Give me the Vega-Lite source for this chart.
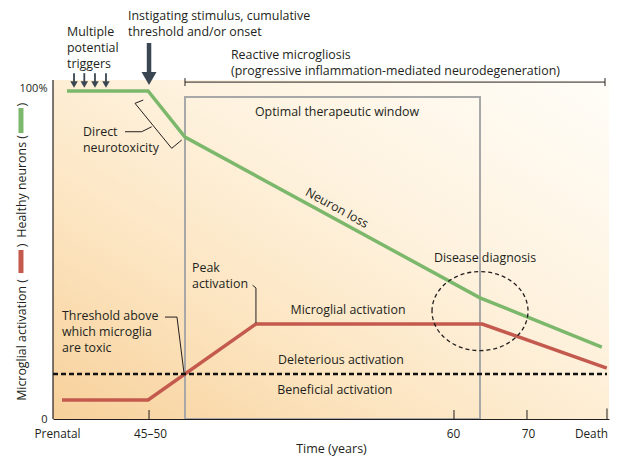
{
  "$schema": "https://vega.github.io/schema/vega-lite/v6.json",
  "width": 556,
  "height": 419,
  "autosize": {"type": "none"},
  "padding": {"left": 53, "top": 0, "right": 16, "bottom": 44},
  "background": "white",
  "config": {"view": {"stroke": null}, "font": "Open Sans"},
  "datasets": {
    "bg": [{"x": 0, "x2": 100, "y": 0, "y2": 102.4}],
    "win": [{"x": 23.74, "x2": 76.8, "y": 0, "y2": 97.3}],
    "curves": [
      {"s": "neurons", "o": 1, "x": 2.52, "y": 99.1},
      {"s": "neurons", "o": 2, "x": 17.1, "y": 99.1},
      {"s": "neurons", "o": 3, "x": 23.74, "y": 85.2},
      {"s": "neurons", "o": 4, "x": 76.8, "y": 36.6},
      {"s": "neurons", "o": 5, "x": 98.7, "y": 21.75},
      {"s": "microglia", "o": 1, "x": 1.62, "y": 5.74},
      {"s": "microglia", "o": 2, "x": 17.1, "y": 5.74},
      {"s": "microglia", "o": 3, "x": 36.5, "y": 28.7},
      {"s": "microglia", "o": 4, "x": 77.2, "y": 28.7},
      {"s": "microglia", "o": 5, "x": 99.6, "y": 15.4}
    ],
    "dash": [{"x": 0, "x2": 99.64, "y": 13.6}],
    "reactive": [{"x": 23.74, "x2": 99.28, "y": 101.8}],
    "reactiveEnds": [{"x": 23.74, "y": 100.6, "y2": 103.0}, {"x": 99.28, "y": 100.6, "y2": 103.0}],
    "leaders": [
      {"g": "bracket", "o": 1, "x": 16.24, "y": 96.37},
      {"g": "bracket", "o": 2, "x": 14.75, "y": 95.38},
      {"g": "bracket", "o": 3, "x": 21.35, "y": 81.78},
      {"g": "bracket", "o": 4, "x": 23.15, "y": 84.29},
      {"g": "connector", "o": 1, "x": 12.95, "y": 86.8},
      {"g": "connector", "o": 2, "x": 15.95, "y": 86.8},
      {"g": "connector", "o": 3, "x": 17.75, "y": 88.3},
      {"g": "threshold", "o": 1, "x": 20.14, "y": 30.8},
      {"g": "threshold", "o": 2, "x": 22.3, "y": 30.8},
      {"g": "threshold", "o": 3, "x": 23.56, "y": 13.9},
      {"g": "peak", "o": 1, "x": 35.9, "y": 40.4},
      {"g": "peak", "o": 2, "x": 36.5, "y": 39.6},
      {"g": "peak", "o": 3, "x": 36.5, "y": 29.0}
    ],
    "xticks": [
      {"x": 17.27, "y": 0, "y2": 2.72},
      {"x": 72.12, "y": 0, "y2": 2.72},
      {"x": 85.25, "y": 0, "y2": 2.72},
      {"x": 99.64, "y": 0, "y2": 3.2}
    ],
    "yaxis": [{"x": 0, "y": 0, "y2": 102.4}],
    "bigShaft": [{"x": 17.27, "y": 102.9, "y2": 113.6}],
    "bigHead": [{"x": 17.27, "y": 102.87}],
    "smallShaft": [
      {"x": 3.78, "y": 101.3, "y2": 104.5},
      {"x": 5.63, "y": 101.3, "y2": 104.5},
      {"x": 7.55, "y": 101.3, "y2": 104.5},
      {"x": 9.53, "y": 101.3, "y2": 104.5}
    ],
    "smallHead": [
      {"x": 3.78, "y": 101.06},
      {"x": 5.63, "y": 101.06},
      {"x": 7.55, "y": 101.06},
      {"x": 9.53, "y": 101.06}
    ],
    "ellipse": [{"x": 76.8, "y": 32.6}],
    "swatches": [
      {"s": "microglia", "x": -5.76, "y": 44.1, "y2": 51.06},
      {"s": "neurons", "x": -5.76, "y": 86.4, "y2": 93.96}
    ],
    "textLeft": [
      {"t": "Instigating stimulus, cumulative", "x": 13.49, "y": 121.75},
      {"t": "threshold and/or onset", "x": 13.49, "y": 116.9},
      {"t": "Multiple", "x": 2.52, "y": 117.0},
      {"t": "potential", "x": 2.52, "y": 112.2},
      {"t": "triggers", "x": 2.52, "y": 107.35},
      {"t": "Reactive microgliosis", "x": 32.01, "y": 109.97},
      {"t": "(progressive inflammation-mediated neurodegeneration)", "x": 32.01, "y": 105.14},
      {"t": "Direct", "x": 5.4, "y": 86.7},
      {"t": "neurotoxicity", "x": 5.4, "y": 81.87},
      {"t": "Peak", "x": 25.0, "y": 45.62},
      {"t": "activation", "x": 25.0, "y": 40.79},
      {"t": "Threshold above", "x": 1.62, "y": 31.12},
      {"t": "which microglia", "x": 1.62, "y": 26.28},
      {"t": "are toxic", "x": 1.62, "y": 21.45}
    ],
    "textCenter": [
      {"t": "Optimal therapeutic window", "x": 51.08, "y": 92.75},
      {"t": "Microglial activation", "x": 53.06, "y": 32.93},
      {"t": "Deleterious activation", "x": 51.8, "y": 17.82},
      {"t": "Beneficial activation", "x": 50.7, "y": 8.76},
      {"t": "Disease diagnosis", "x": 77.7, "y": 48.64}
    ],
    "textRot": [{"t": "Neuron loss", "x": 51.08, "y": 63.75}],
    "ytitleRight": [
      {"t": "Microglial activation (", "x": -5.58, "y": 42.3},
      {"t": "Healthy neurons (", "x": -5.58, "y": 85.8}
    ],
    "ytitleParen": [
      {"t": ")", "x": -5.58, "y": 52.42},
      {"t": ")", "x": -5.58, "y": 95.0}
    ]
  },
  "encoding": {
    "x": {
      "field": "x", "type": "quantitative",
      "scale": {"domain": [0, 100], "nice": false, "zero": false},
      "axis": {
        "values": [0.72, 17.45, 71.94, 85.43, 96.76],
        "labelExpr": "datum.value < 5 ? 'Prenatal' : datum.value < 30 ? '45–50' : datum.value < 80 ? '60' : datum.value < 90 ? '70' : 'Death'",
        "ticks": false, "grid": false, "domain": true,
        "domainColor": "#231f20", "domainWidth": 1.2,
        "labelFlush": false, "labelOverlap": false, "labelPadding": 9,
        "labelFontSize": 11.8, "labelColor": "#231f20",
        "title": "Time (years)", "titleFontSize": 12.5, "titleFontWeight": "normal",
        "titleColor": "#231f20", "titlePadding": 3, "zindex": 1
      }
    },
    "y": {
      "field": "y", "type": "quantitative",
      "scale": {"domain": [0, 126.6], "nice": false, "zero": false},
      "axis": {
        "values": [0, 100],
        "labelExpr": "datum.value == 100 ? '100%' : '0'",
        "ticks": false, "grid": false, "domain": false,
        "labelPadding": 6, "labelFontSize": 11, "labelColor": "#231f20",
        "title": null, "zindex": 1
      }
    }
  },
  "layer": [
    {
      "data": {"name": "bg"},
      "mark": {"type": "rect", "fill": {"gradient": "linear", "x1": 0, "y1": 1, "x2": 1, "y2": 0, "stops": [
        {"offset": 0, "color": "#f7d09a"},
        {"offset": 0.3, "color": "#fce4bf"},
        {"offset": 0.6, "color": "#fef2de"},
        {"offset": 1, "color": "#fffdf8"}
      ]}},
      "encoding": {"x2": {"field": "x2"}, "y2": {"field": "y2"}}
    },
    {
      "data": {"name": "win"},
      "mark": {"type": "rect", "fill": null, "fillOpacity": 0, "stroke": "#a8a8a8", "strokeWidth": 2},
      "encoding": {"x2": {"field": "x2"}, "y2": {"field": "y2"}}
    },
    {
      "data": {"name": "curves"},
      "mark": {"type": "line", "strokeWidth": 3.5, "strokeJoin": "miter"},
      "encoding": {
        "order": {"field": "o", "type": "quantitative"},
        "color": {"field": "s", "type": "nominal", "scale": {"domain": ["neurons", "microglia"], "range": ["#7cb86c", "#c45a4e"]}, "legend": null}
      }
    },
    {
      "data": {"name": "dash"},
      "mark": {"type": "rule", "color": "#111111", "strokeWidth": 2.6, "strokeDash": [5, 3]},
      "encoding": {"x2": {"field": "x2"}}
    },
    {
      "data": {"name": "reactive"},
      "mark": {"type": "rule", "color": "#231f20", "strokeWidth": 1},
      "encoding": {"x2": {"field": "x2"}}
    },
    {
      "data": {"name": "reactiveEnds"},
      "mark": {"type": "rule", "color": "#231f20", "strokeWidth": 1},
      "encoding": {"y2": {"field": "y2"}}
    },
    {
      "data": {"name": "leaders"},
      "mark": {"type": "line", "color": "#231f20", "strokeWidth": 1, "strokeJoin": "miter"},
      "encoding": {
        "detail": {"field": "g", "type": "nominal"},
        "order": {"field": "o", "type": "quantitative"}
      }
    },
    {
      "data": {"name": "xticks"},
      "mark": {"type": "rule", "color": "#231f20", "strokeWidth": 1},
      "encoding": {"y2": {"field": "y2"}}
    },
    {
      "data": {"name": "yaxis"},
      "mark": {"type": "rule", "color": "#231f20", "strokeWidth": 1.2},
      "encoding": {"y2": {"field": "y2"}}
    },
    {
      "data": {"name": "bigShaft"},
      "mark": {"type": "rule", "color": "#3a4651", "strokeWidth": 4.5},
      "encoding": {"y2": {"field": "y2"}}
    },
    {
      "data": {"name": "bigHead"},
      "mark": {"type": "point", "shape": "triangle-down", "filled": true, "color": "#3a4651", "size": 225, "opacity": 1}
    },
    {
      "data": {"name": "smallShaft"},
      "mark": {"type": "rule", "color": "#3a4651", "strokeWidth": 1.8},
      "encoding": {"y2": {"field": "y2"}}
    },
    {
      "data": {"name": "smallHead"},
      "mark": {"type": "point", "shape": "triangle-down", "filled": true, "color": "#3a4651", "size": 56, "opacity": 1}
    },
    {
      "data": {"name": "ellipse"},
      "mark": {"type": "point", "shape": "M-1,0A1,0.823,0,1,1,1,0A1,0.823,0,1,1,-1,0Z", "filled": false, "stroke": "#231f20", "strokeWidth": 1.3, "strokeDash": [4, 3], "size": 9216, "opacity": 1}
    },
    {
      "data": {"name": "swatches"},
      "mark": {"type": "rule", "strokeWidth": 5},
      "encoding": {
        "y2": {"field": "y2"},
        "color": {"field": "s", "type": "nominal", "legend": null}
      }
    },
    {
      "data": {"name": "textLeft"},
      "mark": {"type": "text", "align": "left", "baseline": "middle", "fontSize": 12.4, "color": "#231f20"},
      "encoding": {"text": {"field": "t"}}
    },
    {
      "data": {"name": "textCenter"},
      "mark": {"type": "text", "align": "center", "baseline": "middle", "fontSize": 12.4, "color": "#231f20"},
      "encoding": {"text": {"field": "t"}}
    },
    {
      "data": {"name": "textRot"},
      "mark": {"type": "text", "align": "center", "baseline": "middle", "fontSize": 12.4, "angle": 29, "color": "#231f20"},
      "encoding": {"text": {"field": "t"}}
    },
    {
      "data": {"name": "ytitleRight"},
      "mark": {"type": "text", "align": "right", "baseline": "middle", "fontSize": 12.4, "angle": 270, "color": "#231f20"},
      "encoding": {"text": {"field": "t"}}
    },
    {
      "data": {"name": "ytitleParen"},
      "mark": {"type": "text", "align": "center", "baseline": "middle", "fontSize": 12.4, "angle": 270, "color": "#231f20"},
      "encoding": {"text": {"field": "t"}}
    }
  ]
}
